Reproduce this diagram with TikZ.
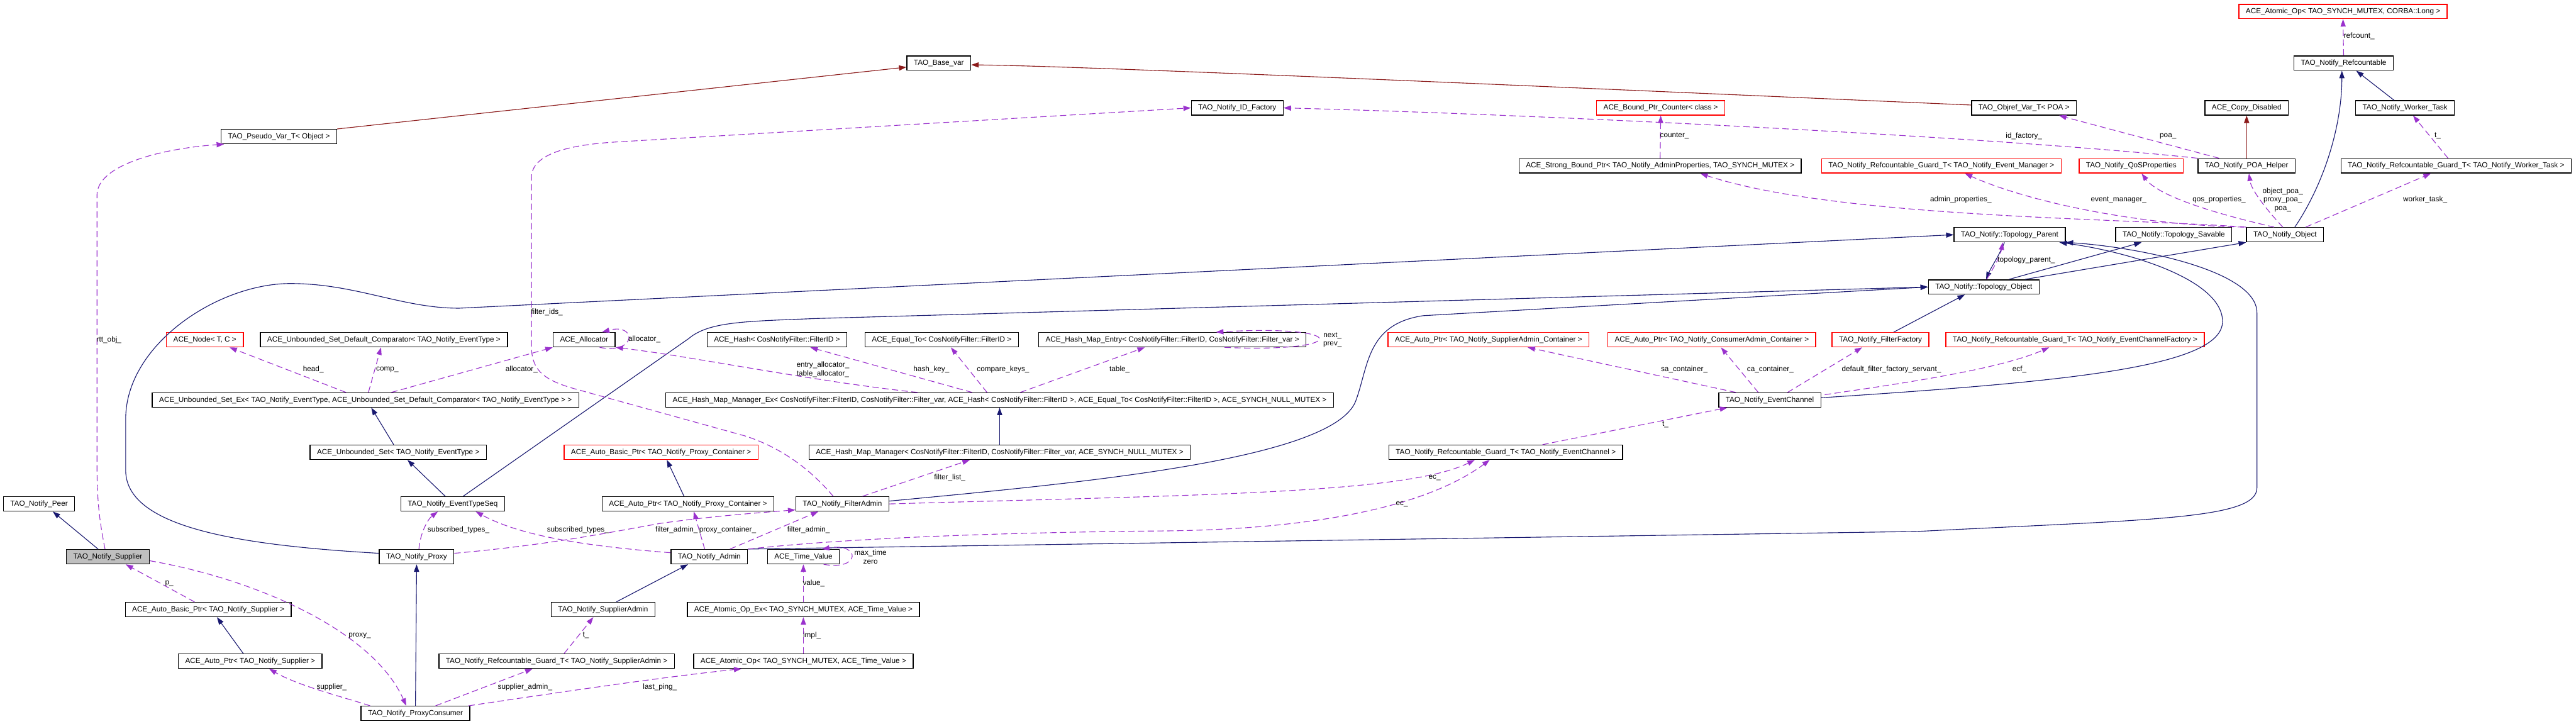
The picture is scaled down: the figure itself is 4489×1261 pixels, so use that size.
\documentclass[tikz,border=0pt]{standalone}
\usepackage{fontspec}
\setmainfont{Liberation Sans}
\usepackage{xcolor}
\usetikzlibrary{positioning, arrows.meta, calc}

\definecolor{inhblue}{RGB}{25,25,112}
\definecolor{tplred}{RGB}{139,26,26}
\definecolor{usepurple}{RGB}{154,50,205}

\begin{document}
\begin{tikzpicture}[
    x=0.01cm, y=-0.01cm,
    cls/.style={rectangle, draw=black, line width=0.45pt, minimum height=0.25cm, inner xsep=0.12cm, inner ysep=0pt, text height=0.095cm, text depth=0.027cm, font=\fontsize{3.67}{4.2}\selectfont},
    undoc/.style={cls, draw=red},
    curcls/.style={cls, fill=black!25},
    lbl/.style={font=\fontsize{3.67}{4.2}\selectfont, inner sep=0pt, align=center},
    inherit/.style={-{Triangle[length=0.13cm, width=0.09cm]}, draw=inhblue, line width=0.35pt},
    templ/.style={-{Triangle[length=0.13cm, width=0.09cm]}, draw=tplred, line width=0.35pt},
    member/.style={-{Triangle[length=0.13cm, width=0.09cm]}, draw=usepurple, line width=0.35pt, dash pattern=on 0.11cm off 0.06cm}
]
\useasboundingbox (0,0) rectangle (4489,1261);

% Nodes
\node[undoc] (aolong) at (4083,20) {ACE\_Atomic\_Op< TAO\_SYNCH\_MUTEX, CORBA::Long >};
\node[cls] (basevar) at (1636,110) {TAO\_Base\_var};
\node[cls] (refc) at (4084,110) {TAO\_Notify\_Refcountable};
\node[cls] (pseudo) at (486,238) {TAO\_Pseudo\_Var\_T< Object >};
\node[cls] (idfac) at (2156,188) {TAO\_Notify\_ID\_Factory};
\node[undoc] (bpcount) at (2894,188) {ACE\_Bound\_Ptr\_Counter< class >};
\node[cls] (objref) at (3527,188) {TAO\_Objref\_Var\_T< POA >};
\node[cls] (copydis) at (3915,188) {ACE\_Copy\_Disabled};
\node[cls] (worker) at (4191,188) {TAO\_Notify\_Worker\_Task};
\node[cls] (sbptr) at (2893,289) {ACE\_Strong\_Bound\_Ptr< TAO\_Notify\_AdminProperties, TAO\_SYNCH\_MUTEX >};
\node[undoc] (gevm) at (3383,289) {TAO\_Notify\_Refcountable\_Guard\_T< TAO\_Notify\_Event\_Manager >};
\node[undoc] (qos) at (3714,289) {TAO\_Notify\_QoSProperties};
\node[cls] (poahelp) at (3915,289) {TAO\_Notify\_POA\_Helper};
\node[cls] (gwork) at (4280,289) {TAO\_Notify\_Refcountable\_Guard\_T< TAO\_Notify\_Worker\_Task >};
\node[cls] (tparent) at (3502,409) {TAO\_Notify::Topology\_Parent};
\node[cls] (tsav) at (3788,409) {TAO\_Notify::Topology\_Savable};
\node[cls] (nobj) at (3982,409) {TAO\_Notify\_Object};
\node[cls] (tobj) at (3457,500) {TAO\_Notify::Topology\_Object};
\node[undoc] (acenode) at (357,592) {ACE\_Node< T, C >};
\node[cls] (ucomp) at (669,592) {ACE\_Unbounded\_Set\_Default\_Comparator< TAO\_Notify\_EventType >};
\node[cls] (alloc) at (1018,592) {ACE\_Allocator};
\node[cls] (hash) at (1354,592) {ACE\_Hash< CosNotifyFilter::FilterID >};
\node[cls] (equal) at (1641,592) {ACE\_Equal\_To< CosNotifyFilter::FilterID >};
\node[cls] (hmentry) at (2043,592) {ACE\_Hash\_Map\_Entry< CosNotifyFilter::FilterID, CosNotifyFilter::Filter\_var >};
\node[undoc] (saptr) at (2594,592) {ACE\_Auto\_Ptr< TAO\_Notify\_SupplierAdmin\_Container >};
\node[undoc] (captr) at (2983,592) {ACE\_Auto\_Ptr< TAO\_Notify\_ConsumerAdmin\_Container >};
\node[undoc] (ffac) at (3277,592) {TAO\_Notify\_FilterFactory};
\node[undoc] (gecf) at (3616,592) {TAO\_Notify\_Refcountable\_Guard\_T< TAO\_Notify\_EventChannelFactory >};
\node[cls] (usetex) at (637,697) {ACE\_Unbounded\_Set\_Ex< TAO\_Notify\_EventType, ACE\_Unbounded\_Set\_Default\_Comparator< TAO\_Notify\_EventType > >};
\node[cls] (hmmex) at (1742,697) {ACE\_Hash\_Map\_Manager\_Ex< CosNotifyFilter::FilterID, CosNotifyFilter::Filter\_var, ACE\_Hash< CosNotifyFilter::FilterID >, ACE\_Equal\_To< CosNotifyFilter::FilterID >, ACE\_SYNCH\_NULL\_MUTEX >};
\node[cls] (ec) at (3084,697) {TAO\_Notify\_EventChannel};
\node[cls] (uset) at (694,788) {ACE\_Unbounded\_Set< TAO\_Notify\_EventType >};
\node[undoc] (abpcont) at (1152,788) {ACE\_Auto\_Basic\_Ptr< TAO\_Notify\_Proxy\_Container >};
\node[cls] (hmm) at (1742,788) {ACE\_Hash\_Map\_Manager< CosNotifyFilter::FilterID, CosNotifyFilter::Filter\_var, ACE\_SYNCH\_NULL\_MUTEX >};
\node[cls] (gec) at (2624,788) {TAO\_Notify\_Refcountable\_Guard\_T< TAO\_Notify\_EventChannel >};
\node[cls] (peer) at (68,878) {TAO\_Notify\_Peer};
\node[cls] (etseq) at (789,878) {TAO\_Notify\_EventTypeSeq};
\node[cls] (apcont) at (1199,878) {ACE\_Auto\_Ptr< TAO\_Notify\_Proxy\_Container >};
\node[cls] (fadmin) at (1468,878) {TAO\_Notify\_FilterAdmin};
\node[curcls] (supplier) at (188,970) {TAO\_Notify\_Supplier};
\node[cls] (proxy) at (726,970) {TAO\_Notify\_Proxy};
\node[cls] (admin) at (1236,970) {TAO\_Notify\_Admin};
\node[cls] (tv) at (1400,970) {ACE\_Time\_Value};
\node[cls] (abpsup) at (363,1062) {ACE\_Auto\_Basic\_Ptr< TAO\_Notify\_Supplier >};
\node[cls] (sadmin) at (1051,1062) {TAO\_Notify\_SupplierAdmin};
\node[cls] (aopex) at (1400,1062) {ACE\_Atomic\_Op\_Ex< TAO\_SYNCH\_MUTEX, ACE\_Time\_Value >};
\node[cls] (apsup) at (436,1152) {ACE\_Auto\_Ptr< TAO\_Notify\_Supplier >};
\node[cls] (gsadm) at (970,1152) {TAO\_Notify\_Refcountable\_Guard\_T< TAO\_Notify\_SupplierAdmin >};
\node[cls] (aop) at (1400,1152) {ACE\_Atomic\_Op< TAO\_SYNCH\_MUTEX, ACE\_Time\_Value >};
\node[cls] (pcons) at (724,1243) {TAO\_Notify\_ProxyConsumer};

% Template instances
\draw[templ] (pseudo.north east) -- ($(basevar.west)+(0,7)$);
\draw[templ] ($(objref.west)+(0,-5)$) .. controls (2900,160) and (1900,115) .. ($(basevar.east)+(0,3)$);
\draw[templ] (poahelp.north) -- (copydis.south);

% Inheritance
\draw[inherit] ($(nobj.north)+(17,0)$) .. controls (4050,320) and (4081,220) .. ($(refc.south)+(-3,0)$);
\draw[inherit] ($(worker.north)+(-19,0)$) -- ($(refc.south)+(22,0)$);
\draw[inherit] ($(tparent.south)+(-9,0)$) .. controls (3484,445) and (3470,465) .. ($(tobj.north)+(4,0)$);
\draw[inherit] ($(tobj.north)+(44,0)$) -- ($(tsav.south)+(-56,0)$);
\draw[inherit] ($(tobj.north)+(72,0)$) -- (nobj.south west);
\draw[inherit] ($(ec.east)+(0,-4)$) .. controls (3600,665) and (3873,640) .. (3873,560) .. controls (3873,490) and (3720,440) .. ($(tparent.south east)+(-11,0)$);
\draw[inherit] (admin.north east) -- (3340,926) .. controls (3750,905) and (3933,905) .. (3933,850) -- (3933,545) .. controls (3933,470) and (3720,430) .. (tparent.south east);
\draw[inherit] ($(proxy.west)+(0,-6)$) .. controls (420,950) and (220,920) .. (219,820) -- (219,730) .. controls (219,600) and (380,494) .. (506,494) .. controls (620,494) and (700,537) .. (800,537) -- (tparent.west);
\draw[inherit] ($(etseq.north)+(18,0)$) -- (1200,590) .. controls (1235,560) and (1300,560) .. (1420,555) -- (tobj.west);
\draw[inherit] ($(fadmin.east)+(0,-5)$) .. controls (1900,840) and (2320,800) .. (2362,700) .. controls (2385,640) and (2380,565) .. (2480,550) -- (tobj.west);
\draw[inherit] ($(ffac.north)+(23,0)$) -- ($(tobj.south)+(-33,0)$);
\draw[inherit] ($(supplier.north)+(-17,0)$) -- ($(peer.south)+(24,0)$);
\draw[inherit] (pcons.north) -- (proxy.south);
\draw[inherit] ($(apsup.north)+(-12,0)$) -- ($(abpsup.south)+(15,0)$);
\draw[inherit] ($(sadmin.north)+(23,0)$) -- ($(admin.south)+(-37,0)$);
\draw[inherit] ($(uset.north)+(-8,0)$) -- ($(usetex.south)+(10,0)$);
\draw[inherit] ($(etseq.north)+(-13,0)$) -- ($(uset.south)+(16,0)$);
\draw[inherit] ($(apcont.north)+(-7,0)$) -- ($(abpcont.south)+(10,0)$);
\draw[inherit] (hmm.north) -- (hmmex.south);

% Members (supplier side)
\draw[member] ($(supplier.north)+(-5,0)$) .. controls (172,900) and (169,870) .. (169,800) -- (169,340) .. controls (169,285) and (290,258) .. ($(pseudo.south west)+(6,0)$) node[lbl] at (190,592) {rtt\_obj\_};
\draw[member] ($(abpsup.north)+(-24,0)$) -- ($(supplier.south)+(31,0)$) node[lbl] at (295,1017) {p\_};
\draw[member] ($(supplier.east)+(0,7)$) .. controls (450,1010) and (650,1100) .. ($(pcons.north)+(-16,0)$) node[lbl] at (627,1107) {proxy\_};
\draw[member] ($(pcons.north)+(-79,0)$) .. controls (600,1215) and (520,1195) .. ($(apsup.south)+(33,0)$) node[lbl] at (578,1197) {supplier\_};
\draw[member] ($(pcons.north)+(35,0)$) -- ($(gsadm.south)+(-42,0)$) node[lbl] at (915,1197) {supplier\_admin\_};
\draw[member] ($(pcons.north east)+(-3,0)$) .. controls (950,1210) and (1150,1180) .. ($(aop.south)+(-108,0)$) node[lbl] at (1150,1197) {last\_ping\_};
\draw[member] ($(gsadm.north)+(13,0)$) -- ($(sadmin.south)+(-17,0)$) node[lbl] at (1021,1107) {t\_};
\draw[member] (aop.north) -- (aopex.south) node[lbl] at (1415,1107) {impl\_};
\draw[member] (aopex.north) -- (tv.south) node[lbl] at (1418,1016) {value\_};
\draw[member] ($(tv.south east)+(-28,0)$) .. controls (1500,995) and (1500,945) .. ($(tv.north east)+(-31,0)$) node[lbl] at (1517,970) {max\_time\\zero};

% Members (proxy and admin)
\draw[member] ($(proxy.north)+(4,0)$) .. controls (732,930) and (745,905) .. ($(etseq.south)+(-26,0)$) node[lbl] at (799,923) {subscribed\_types\_};
\draw[member] ($(admin.west)+(0,-7)$) .. controls (1000,950) and (900,930) .. ($(etseq.south)+(40,0)$) node[lbl] at (1007,923) {subscribed\_types\_};
\draw[member] ($(proxy.east)+(0,-6)$) .. controls (950,950) and (1050,930) .. (1150,912) .. controls (1250,898) and (1330,893) .. ($(fadmin.south west)+(0,-3)$) node[lbl] at (1179,923) {filter\_admin\_};
\draw[member] ($(admin.north)+(36,0)$) -- ($(fadmin.south)+(-42,0)$) node[lbl] at (1409,923) {filter\_admin\_};
\draw[member] ($(admin.north)+(-8,0)$) -- ($(apcont.south)+(10,0)$) node[lbl] at (1268,923) {proxy\_container\_};
\draw[member] ($(fadmin.north)+(35,0)$) -- ($(hmm.south)+(-52,0)$) node[lbl] at (1655,832) {filter\_list\_};
\draw[member] ($(fadmin.north)+(-16,0)$) .. controls (1410,815) and (1360,780) .. (1300,760) -- (1000,677) .. controls (940,660) and (926,640) .. (926,600) -- (926,310) .. controls (926,268) and (990,252) .. (1080,247) -- (idfac.west) node[lbl] at (953,544) {filter\_ids\_};
\draw[member] (fadmin.east) .. controls (2100,862) and (2450,860) .. ($(gec.south)+(-54,0)$) node[lbl] at (2500,832) {ec\_};
\draw[member] (admin.north east) .. controls (1500,935) and (1800,927) .. (2031,925) .. controls (2300,922) and (2490,880) .. ($(gec.south)+(-28,0)$) node[lbl] at (2443,878) {ec\_};

% Members (containers)
\draw[member] ($(hmmex.north)+(-48,0)$) -- ($(hash.south)+(58,0)$) node[lbl] at (1623,644) {hash\_key\_};
\draw[member] ($(hmmex.north)+(-22,0)$) -- ($(equal.south)+(16,0)$) node[lbl] at (1748,644) {compare\_keys\_};
\draw[member] ($(hmmex.north)+(36,0)$) -- ($(hmentry.south)+(-48,0)$) node[lbl] at (1951,644) {table\_};
\draw[member] ($(hmmex.north)+(-143,0)$) .. controls (1420,665) and (1200,620) .. (alloc.south east) node[lbl] at (1434,644) {entry\_allocator\_\\table\_allocator\_};
\draw[member] ($(usetex.north)+(45,0)$) -- (alloc.south west) node[lbl] at (909,644) {allocator\_};
\draw[member] ($(alloc.south)+(27,0)$) .. controls (1110,618) and (1110,562) .. ($(alloc.north)+(31,0)$) node[lbl] at (1123,591) {allocator\_};
\draw[member] ($(usetex.north)+(-34,0)$) -- ($(acenode.south)+(43,0)$) node[lbl] at (546,644) {head\_};
\draw[member] ($(usetex.north)+(5,0)$) -- ($(ucomp.south)+(-5,0)$) node[lbl] at (675,644) {comp\_};
\draw[member] ($(hmentry.south)+(91,0)$) .. controls (2355,615) and (2355,565) .. ($(hmentry.north)+(76,0)$) node[lbl] at (2322,592) {next\_\\prev\_};

% Members (event channel)
\draw[member] ($(ec.north)+(-59,0)$) -- ($(saptr.south)+(68,0)$) node[lbl] at (2935,644) {sa\_container\_};
\draw[member] ($(ec.north)+(-20,0)$) -- ($(captr.south)+(16,0)$) node[lbl] at (3085,644) {ca\_container\_};
\draw[member] ($(ec.north)+(31,0)$) -- ($(ffac.south)+(-32,0)$) node[lbl] at (3296,644) {default\_filter\_factory\_servant\_};
\draw[member] ($(ec.north east)+(6,4)$) .. controls (3300,670) and (3480,645) .. ($(gecf.south)+(-45,0)$) node[lbl] at (3519,644) {ecf\_};
\draw[member] ($(gec.north)+(64,0)$) -- ($(ec.south)+(-74,0)$) node[lbl] at (2902,740) {t\_};

% Members (notify object)
\draw[member] (nobj.north west) .. controls (3700,380) and (3200,380) .. ($(sbptr.south)+(70,0)$) node[lbl] at (3417,348) {admin\_properties\_};
\draw[member] ($(nobj.north west)+(-4,0)$) .. controls (3720,392) and (3530,350) .. ($(gevm.south)+(41,0)$) node[lbl] at (3692,348) {event\_manager\_};
\draw[member] ($(nobj.north)+(-19,0)$) .. controls (3850,370) and (3760,340) .. ($(qos.south)+(18,0)$) node[lbl] at (3867,348) {qos\_properties\_};
\draw[member] ($(nobj.north)+(-4,0)$) .. controls (3945,360) and (3923,330) .. ($(poahelp.south)+(4,0)$) node[lbl] at (3978,348) {object\_poa\_\\proxy\_poa\_\\poa\_};
\draw[member] ($(nobj.north)+(36,0)$) -- ($(gwork.south)+(-44,0)$) node[lbl] at (4226,348) {worker\_task\_};
\draw[member] ($(gwork.north)+(-14,0)$) -- ($(worker.south)+(14,0)$) node[lbl] at (4248,237) {t\_};
\draw[member] (refc.north) -- (aolong.south) node[lbl] at (4111,63) {refcount\_};
\draw[member] ($(tobj.north)+(5,0)$) .. controls (3478,460) and (3486,445) .. ($(tparent.south)+(-12,0)$) node[lbl] at (3531,453) {topology\_parent\_};
\draw[member] (poahelp.north west) .. controls (3500,240) and (2700,200) .. (idfac.east) node[lbl] at (3527,237) {id\_factory\_};
\draw[member] ($(poahelp.north)+(-48,0)$) -- ($(objref.south)+(61,0)$) node[lbl] at (3778,237) {poa\_};
\draw[member] (sbptr.north) -- (bpcount.south) node[lbl] at (2918,237) {counter\_};

\end{tikzpicture}
\end{document}
